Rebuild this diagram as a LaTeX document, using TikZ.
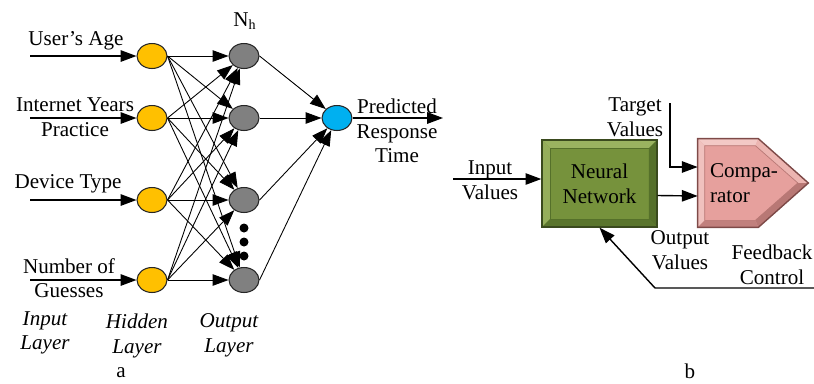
\documentclass[tikz,border=0pt]{standalone}
\usepackage{fontspec}
\setmainfont{Liberation Serif}
\usetikzlibrary{arrows.meta, positioning, shapes.geometric}

\definecolor{hidfill}{HTML}{FFC000}
\definecolor{outfill}{HTML}{808080}
\definecolor{resfill}{HTML}{00B0F0}
\definecolor{netfill}{HTML}{76923C}
\definecolor{netlight}{HTML}{9AB360}
\definecolor{netdark}{HTML}{55702A}
\definecolor{netline}{HTML}{3A4A1E}
\definecolor{cmpfill}{HTML}{E6A09D}
\definecolor{cmplight}{HTML}{F3C9C6}
\definecolor{cmpdark}{HTML}{B87875}
\definecolor{cmpline}{HTML}{7E4A48}

\begin{document}
\begin{tikzpicture}
[
x=0.02cm, y=-0.02cm,
font=\fontsize{12}{14}\selectfont,
neuron/.style={ellipse, draw=black!85, line width=0.6pt,
               minimum width=0.6cm, minimum height=0.5cm, inner sep=0pt},
link/.style={-{Triangle[length=9pt,width=6.5pt]}, line width=0.5pt},
feed/.style={-{Triangle[length=9pt,width=6.5pt]}, line width=0.8pt},
lbl/.style={align=center, inner sep=0pt},
layer/.style={align=center, inner sep=0pt, font=\fontsize{12}{14}\selectfont\itshape},
netbox/.style={rectangle, draw=netline, line width=0.8pt, fill=netfill,
               minimum width=2.3cm, minimum height=1.74cm, align=center,
               path picture={
                 \path (path picture bounding box.north west) coordinate (bnw)
                       (path picture bounding box.north east) coordinate (bne)
                       (path picture bounding box.south east) coordinate (bse)
                       (path picture bounding box.south west) coordinate (bsw);
                 \fill[netlight] (bnw) -- (bne) -- ([shift={(-8,8)}]bne) -- ([shift={(8,8)}]bnw) -- cycle;
                 \fill[netlight!85!netfill] (bnw) -- ([shift={(8,8)}]bnw) -- ([shift={(8,-8)}]bsw) -- (bsw) -- cycle;
                 \fill[netdark] (bne) -- (bse) -- ([shift={(-8,-8)}]bse) -- ([shift={(-8,8)}]bne) -- cycle;
                 \fill[netdark!85!netfill] (bsw) -- (bse) -- ([shift={(-8,-8)}]bse) -- ([shift={(8,-8)}]bsw) -- cycle;
                 \draw[netdark, line width=0.4pt] ([shift={(8,8)}]bnw) rectangle ([shift={(-8,-8)}]bse);
               }},
cmpbox/.style={rectangle, minimum width=2.2cm, minimum height=1.76cm, inner sep=0pt},
cmptext/.style={text width=1.72cm, align=left, inner sep=0pt}
]
\useasboundingbox (0,0) rectangle (814,383);

% network a
\foreach \i/\y in {1/56,2/118,3/200,4/280}{
  \node[neuron, fill=hidfill] (h\i) at (152,\y) {};
  \node[neuron, fill=outfill] (o\i) at (244,\y) {};
  \coordinate (in\i) at (30,\y);
}
\node[neuron, fill=resfill] (res) at (337,118) {};
\coordinate (rt) at (443,118);
\foreach \y in {228,242,256} \fill (244,\y) circle[radius=0.09cm];

\node[lbl] (nh) at (245,21) {N\textsubscript{h}};
\node[lbl] (age) at (76,41) {User's Age};
\node[lbl] (inet) at (75,117) {Internet Years\\Practice};
\node[lbl] (dev) at (68,184) {Device Type};
\node[lbl] (guess) at (69,278) {Number of\\Guesses};
\node[lbl] (pred) at (397,131) {Predicted\\Response\\Time};

\foreach \i in {1,...,4} \draw[feed] (in\i) -- (h\i);
\foreach \i in {1,...,4}
  \foreach \j in {1,...,4} \draw[link] (h\i.east) -- (o\j);
\foreach \j in {1,...,4} \draw[link] (o\j.east) -- (res);
\draw[feed] (res) -- (rt);

\node[layer] (linp) at (45,333) {Input\\Layer};
\node[layer] (lhid) at (137,336) {Hidden\\Layer};
\node[layer] (lout) at (229,335) {Output\\Layer};
\node[lbl] (suba) at (121,373) {a};

% training loop b
\node[netbox] (net) at (599.5,183.5) {Neural\\Network};
\node[cmpbox] (cmp) at (753,183) {};
\path (cmp.north west) coordinate (cnw) ([xshift=-1cm]cmp.north east) coordinate (cn)
      (cmp.east) coordinate (ctip) ([xshift=-1cm]cmp.south east) coordinate (cs)
      (cmp.south west) coordinate (csw);
\fill[cmpfill] (cnw) -- (cn) -- (ctip) -- (cs) -- (csw) -- cycle;
\fill[cmplight] (cnw) -- (cn) -- ([shift={(-3,7)}]cn) -- ([shift={(7,7)}]cnw) -- cycle;
\fill[cmplight!80!cmpfill] (cnw) -- ([shift={(7,7)}]cnw) -- ([shift={(7,-7)}]csw) -- (csw) -- cycle;
\fill[cmplight!50!cmpfill] (cn) -- (ctip) -- ([xshift=-0.21cm]ctip) -- ([shift={(-3,7)}]cn) -- cycle;
\fill[cmpdark] (ctip) -- (cs) -- ([shift={(-3,-7)}]cs) -- ([xshift=-0.21cm]ctip) -- cycle;
\fill[cmpdark!80!cmpfill] (csw) -- (cs) -- ([shift={(-3,-7)}]cs) -- ([shift={(7,-7)}]csw) -- cycle;
\draw[cmpdark, line width=0.4pt] ([shift={(7,7)}]cnw) -- ([shift={(-3,7)}]cn) -- ([xshift=-0.21cm]ctip)
      -- ([shift={(-3,-7)}]cs) -- ([shift={(7,-7)}]csw) -- cycle;
\draw[cmpline, line width=0.8pt] (cnw) -- (cn) -- (ctip) -- (cs) -- (csw) -- cycle;
\node[cmptext] (cmpt) at (cmp) {Compa-\\rator};

\coordinate (inv) at (453,179);
\coordinate (tgt) at (670,103);
\coordinate (fbk) at (814,288);
\coordinate (fbend) at (655,288);
\node[lbl] (invl) at (490,180) {Input\\Values};
\node[lbl] (tgtl) at (635,117) {Target\\Values};
\node[lbl] (outl) at (680,250) {Output\\Values};
\node[lbl] (fbkl) at (772,265) {Feedback\\Control};
\node[lbl] (subb) at (690,371) {b};

\draw[feed] (inv) -- (net.west |- inv);
\draw[feed] ([shift={(0,12)}]net.east) -- ([shift={(0,13)}]cmp.west);
\draw[feed] (tgt) |- ([shift={(0,-16)}]cmp.west);
\draw[feed] (fbk) -- (fbend) -- (net.south);
\end{tikzpicture}
\end{document}
